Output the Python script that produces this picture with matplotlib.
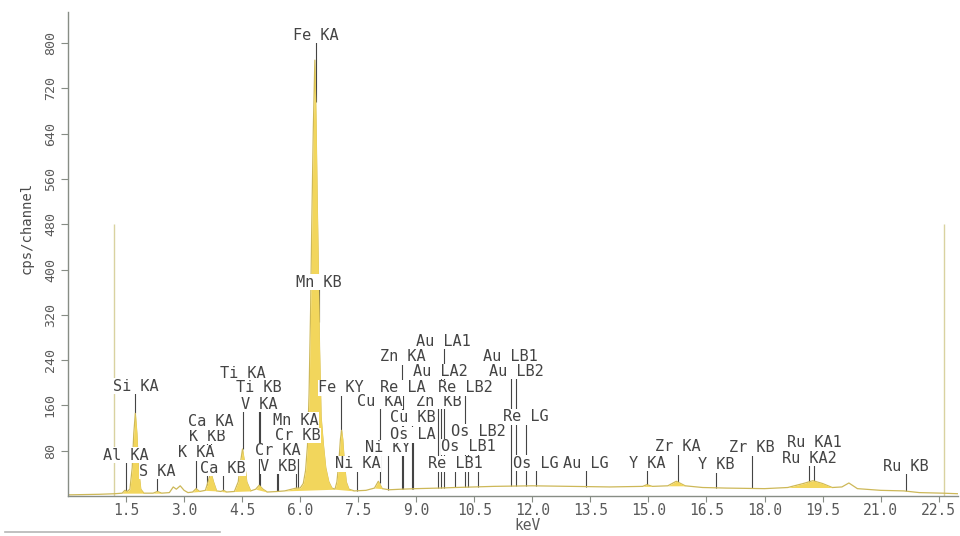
import numpy as np
import matplotlib.pyplot as plt
from matplotlib.lines import Line2D

# XRF spectrum, energy in keV and intensity in cps/channel
energy = [0.0, 0.8, 1.2, 1.40, 1.47, 1.53, 1.60, 1.66, 1.70, 1.74, 1.78, 1.82, 1.88, 1.96,
          2.20, 2.31, 2.42, 2.62, 2.72, 2.80, 2.90, 3.00, 3.10, 3.22, 3.31, 3.40, 3.55,
          3.62, 3.69, 3.76, 3.84, 3.95, 4.02, 4.10, 4.30, 4.40, 4.46, 4.51, 4.56, 4.62,
          4.72, 4.85, 4.94, 5.04, 5.15, 5.41, 5.60, 5.90, 6.00, 6.08, 6.14, 6.19, 6.23,
          6.27, 6.30, 6.34, 6.38, 6.41, 6.44, 6.47, 6.50, 6.54, 6.60, 6.66, 6.74, 6.82,
          6.90, 6.95, 7.00, 7.04, 7.07, 7.10, 7.14, 7.19, 7.26, 7.40, 7.70, 7.92, 8.02,
          8.12, 8.30, 8.60, 9.00, 9.60, 10.0, 11.0, 12.0, 13.0, 14.0, 14.85, 14.96, 15.10,
          15.50, 15.72, 15.95, 16.40, 17.0, 18.0, 18.6, 19.0, 19.25, 19.5, 19.75, 20.0,
          20.18, 20.40, 21.0, 21.6, 22.0, 22.6, 23.0]
counts = [2, 3, 4, 5, 10, 8, 12, 50, 110, 146, 110, 50, 12, 5,
          5, 8, 5, 6, 16, 12, 18, 10, 6, 7, 13, 8, 10,
          25, 42, 25, 9, 8, 10, 7, 8, 25, 60, 83, 60, 25,
          9, 12, 19, 12, 7, 8, 9, 14, 14, 22, 45, 90, 180,
          330, 480, 650, 770, 660, 520, 400, 260, 140, 90, 50, 25, 14,
          12, 25, 60, 100, 116, 100, 60, 25, 12, 9, 10, 14, 26,
          13, 11, 12, 13, 14, 15, 17, 18, 17, 16, 17, 20, 17,
          18, 26, 18, 15, 14, 13, 15, 22, 27, 22, 15, 16,
          23, 13, 10, 9, 6, 5, 4]

# energy windows of the identified peaks that get the yellow fill
filled_ranges = [(1.40, 1.96), (2.20, 2.42), (3.22, 3.40), (3.55, 3.84), (3.95, 4.10),
                 (4.30, 4.72), (4.85, 5.15), (5.60, 6.90), (6.90, 7.40), (7.92, 8.12),
                 (14.85, 15.10), (15.50, 15.95), (18.6, 19.75)]

# line markers: label, line energy (keV), label height (cps)
markers = [
    ("Al KA", 1.49, 72), ("Si KA", 1.74, 194), ("S KA", 2.31, 43),
    ("K KA", 3.31, 76), ("K KB", 3.59, 105), ("Ca KA", 3.69, 131), ("Ca KB", 4.01, 49),
    ("Ti KA", 4.51, 217), ("Ti KB", 4.93, 191), ("V KA", 4.95, 162), ("V KB", 5.43, 52),
    ("Cr KA", 5.41, 80), ("Cr KB", 5.95, 107), ("Mn KA", 5.90, 134),
    ("Fe KA", 6.40, 814), ("Mn KB", 6.49, 378), ("Fe KY", 7.06, 191),
    ("Ni KA", 7.48, 57), ("Ni KY", 8.26, 85), ("Cu KA", 8.05, 167), ("Cu KB", 8.90, 138),
    ("Zn KA", 8.64, 246), ("Zn KB", 9.57, 167), ("Re LA", 8.65, 191), ("Os LA", 8.91, 108),
    ("Re LB1", 10.01, 57), ("Re LB2", 10.27, 191), ("Os LB1", 10.35, 87),
    ("Os LB2", 10.60, 114), ("Au LA1", 9.71, 273), ("Au LA2", 9.63, 220),
    ("Au LB1", 11.44, 246), ("Au LB2", 11.58, 220), ("Re LG", 11.83, 140),
    ("Os LG", 12.10, 58), ("Au LG", 13.38, 58), ("Y KA", 14.96, 58), ("Zr KA", 15.77, 87),
    ("Y KB", 16.74, 55), ("Zr KB", 17.67, 85), ("Ru KA1", 19.28, 94), ("Ru KA2", 19.15, 66),
    ("Ru KB", 21.66, 52),
]

# region-of-interest cursors
roi_energy = [1.19, 22.63]
roi_height = 480

x_ticks = [1.5, 3.0, 4.5, 6.0, 7.5, 9.0, 10.5, 12.0, 13.5, 15.0, 16.5, 18.0, 19.5, 21.0, 22.5]
y_ticks = [80, 160, 240, 320, 400, 480, 560, 640, 720, 800]

mono = "DejaVu Sans Mono"
ink = "#444444"
axis_col = "#878d85"

fig = plt.figure(figsize=(9.6, 5.36), dpi=100)
ax = fig.add_axes([68 / 960, 40 / 536, 890 / 960, 484 / 536])

e = np.array(energy)
c = np.array(counts)

ax.plot(e, c, color="#cdb858", lw=0.9, zorder=2)
for lo, hi in filled_ranges:
    m = (e >= lo) & (e <= hi)
    base = np.interp(e[m], [lo, hi], [np.interp(lo, e, c), np.interp(hi, e, c)])
    ax.fill_between(e[m], c[m], base, color="#f2d65c", lw=0, zorder=2)

ax.vlines(roi_energy, 0, roi_height, color="#d9d2a0", lw=1.0, zorder=1)

for name, kev, ly in markers:
    y0 = np.interp(kev, e, c)
    ax.vlines(kev, y0, ly - 12, color=ink, lw=0.8, zorder=1.5)
    ax.text(kev, ly, name, ha="center", va="center", family=mono, fontsize=11,
            color=ink, zorder=3,
            bbox=dict(facecolor="white", edgecolor="none", pad=0.2))

ax.set_xlim(0, 23.0)
ax.set_ylim(0, 855)

ax.set_xticks(x_ticks)
ax.set_xticklabels([f"{t:.1f}" for t in x_ticks], family=mono, fontsize=10.5, color="#5a5a5a")
ax.set_yticks(y_ticks)
ax.set_yticklabels([str(t) for t in y_ticks], family=mono, fontsize=9.5, color="#5a5a5a",
                   rotation=90, va="center")
ax.tick_params(axis="x", length=4, width=0.8, color=axis_col, pad=1)
ax.tick_params(axis="y", length=5, width=0.8, color=axis_col, pad=3)

for side in ("top", "right"):
    ax.spines[side].set_visible(False)
for side in ("left", "bottom"):
    ax.spines[side].set_color(axis_col)
    ax.spines[side].set_linewidth(1.0)

ax.set_xlabel("keV", family=mono, fontsize=10.5, color="#5a5a5a", labelpad=0)
ax.xaxis.set_label_coords((527 - 68) / 890, -0.046)
ax.set_ylabel("cps/channel", family=mono, fontsize=10, color="#4a4a4a")
ax.yaxis.set_label_coords(-0.039, (496 - 228) / 484)

fig.add_artist(Line2D([5 / 960, 220 / 960], [4 / 536, 4 / 536], color="#b5b5b5", lw=1.2))

fig.savefig("out.png", dpi=100, facecolor="white")
